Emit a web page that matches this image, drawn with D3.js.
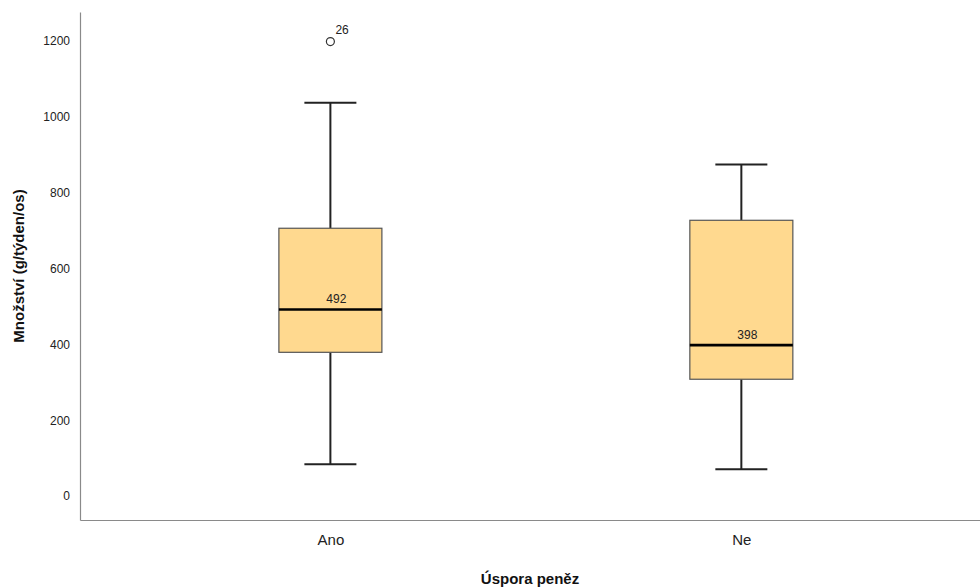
<!DOCTYPE html>
<html>
<head>
<meta charset="utf-8">
<script src="https://cdn.jsdelivr.net/npm/d3@7"></script>
<style>
  html, body { margin: 0; padding: 0; background: #fff; }
  svg { display: block; font-family: "Liberation Sans", Arial, sans-serif; }
</style>
</head>
<body>
<svg id="chart" width="980" height="588"></svg>
<script>
// Box-plot summary per group
const categories = ["Ano", "Ne"];
const whiskerLow = [84, 71];
const q1 = [379, 308];
const medians = [492, 398];
const q3 = [706, 727];
const whiskerHigh = [1037, 874];
// Outliers: group, value, case label
const outlierGroups = ["Ano"];
const outlierValues = [1198];
const outlierLabels = ["26"];
const yTicks = [0, 200, 400, 600, 800, 1000, 1200];

(function draw() {
  const svg = d3.select("#chart");
  const plotLeft = 80, plotRight = 980, plotTop = 12, plotBottom = 520;

  const x = d3.scalePoint()
    .domain(categories)
    .range([plotLeft, plotRight])
    .padding(0.595)
    .align(0.512);

  const y = d3.scaleLinear()
    .domain([-63, 1276])
    .range([plotBottom, plotTop]);

  const boxW = 103, capW = 52;

  // Axes
  const yAxis = svg.append("g")
    .attr("transform", `translate(${plotLeft},0)`)
    .call(d3.axisLeft(y).tickValues(yTicks).tickSize(0).tickPadding(10).tickFormat(d3.format("d")));
  yAxis.select(".domain").attr("stroke", "#8a8a8a").attr("stroke-width", 1.2);
  yAxis.selectAll("text").attr("font-size", 12).attr("fill", "#222")
    .attr("font-family", "Liberation Sans, Arial, sans-serif");

  const xAxis = svg.append("g")
    .attr("transform", `translate(0,${plotBottom})`)
    .call(d3.axisBottom(x).tickSize(0).tickPadding(14));
  xAxis.select(".domain").attr("stroke", "#8a8a8a").attr("stroke-width", 1.2);
  xAxis.selectAll("text").attr("font-size", 15).attr("fill", "#222")
    .attr("font-family", "Liberation Sans, Arial, sans-serif");

  // Axis titles
  svg.append("text")
    .attr("transform", `translate(24,${(plotTop + plotBottom) / 2}) rotate(-90)`)
    .attr("text-anchor", "middle")
    .attr("font-size", 15).attr("font-weight", "bold").attr("fill", "#111")
    .text("Množství (g/týden/os)");

  svg.append("text")
    .attr("x", 530).attr("y", 584)
    .attr("text-anchor", "middle")
    .attr("font-size", 15).attr("font-weight", "bold").attr("fill", "#111")
    .text("Úspora peněz");

  // Boxes
  const groups = categories.map((c, i) => ({
    cat: c, lo: whiskerLow[i], q1: q1[i], med: medians[i], q3: q3[i], hi: whiskerHigh[i]
  }));

  const g = svg.append("g");
  groups.forEach(d => {
    const cx = x(d.cat);
    // whisker stems
    g.append("line").attr("x1", cx).attr("x2", cx).attr("y1", y(d.hi)).attr("y2", y(d.q3))
      .attr("stroke", "#222").attr("stroke-width", 2);
    g.append("line").attr("x1", cx).attr("x2", cx).attr("y1", y(d.q1)).attr("y2", y(d.lo))
      .attr("stroke", "#222").attr("stroke-width", 2);
    // caps
    [d.hi, d.lo].forEach(v => {
      g.append("line").attr("x1", cx - capW / 2).attr("x2", cx + capW / 2)
        .attr("y1", y(v)).attr("y2", y(v))
        .attr("stroke", "#222").attr("stroke-width", 2);
    });
    // box
    g.append("rect")
      .attr("x", cx - boxW / 2).attr("width", boxW)
      .attr("y", y(d.q3)).attr("height", y(d.q1) - y(d.q3))
      .attr("fill", "#FFD98F").attr("stroke", "#555").attr("stroke-width", 1.2);
    // median
    g.append("line").attr("x1", cx - boxW / 2).attr("x2", cx + boxW / 2)
      .attr("y1", y(d.med)).attr("y2", y(d.med))
      .attr("stroke", "#000").attr("stroke-width", 2.6);
    g.append("text")
      .attr("x", cx + 6).attr("y", y(d.med) - 6)
      .attr("text-anchor", "middle").attr("font-size", 12).attr("fill", "#222")
      .text(d.med);
  });

  // Outliers
  outlierValues.forEach((v, i) => {
    const cx = x(outlierGroups[i]);
    g.append("circle").attr("cx", cx).attr("cy", y(v)).attr("r", 4)
      .attr("fill", "#fff").attr("stroke", "#333").attr("stroke-width", 1.2);
    g.append("text").attr("x", cx + 5).attr("y", y(v) - 8)
      .attr("font-size", 12).attr("fill", "#222")
      .text(outlierLabels[i]);
  });
})();
</script>
</body>
</html>
